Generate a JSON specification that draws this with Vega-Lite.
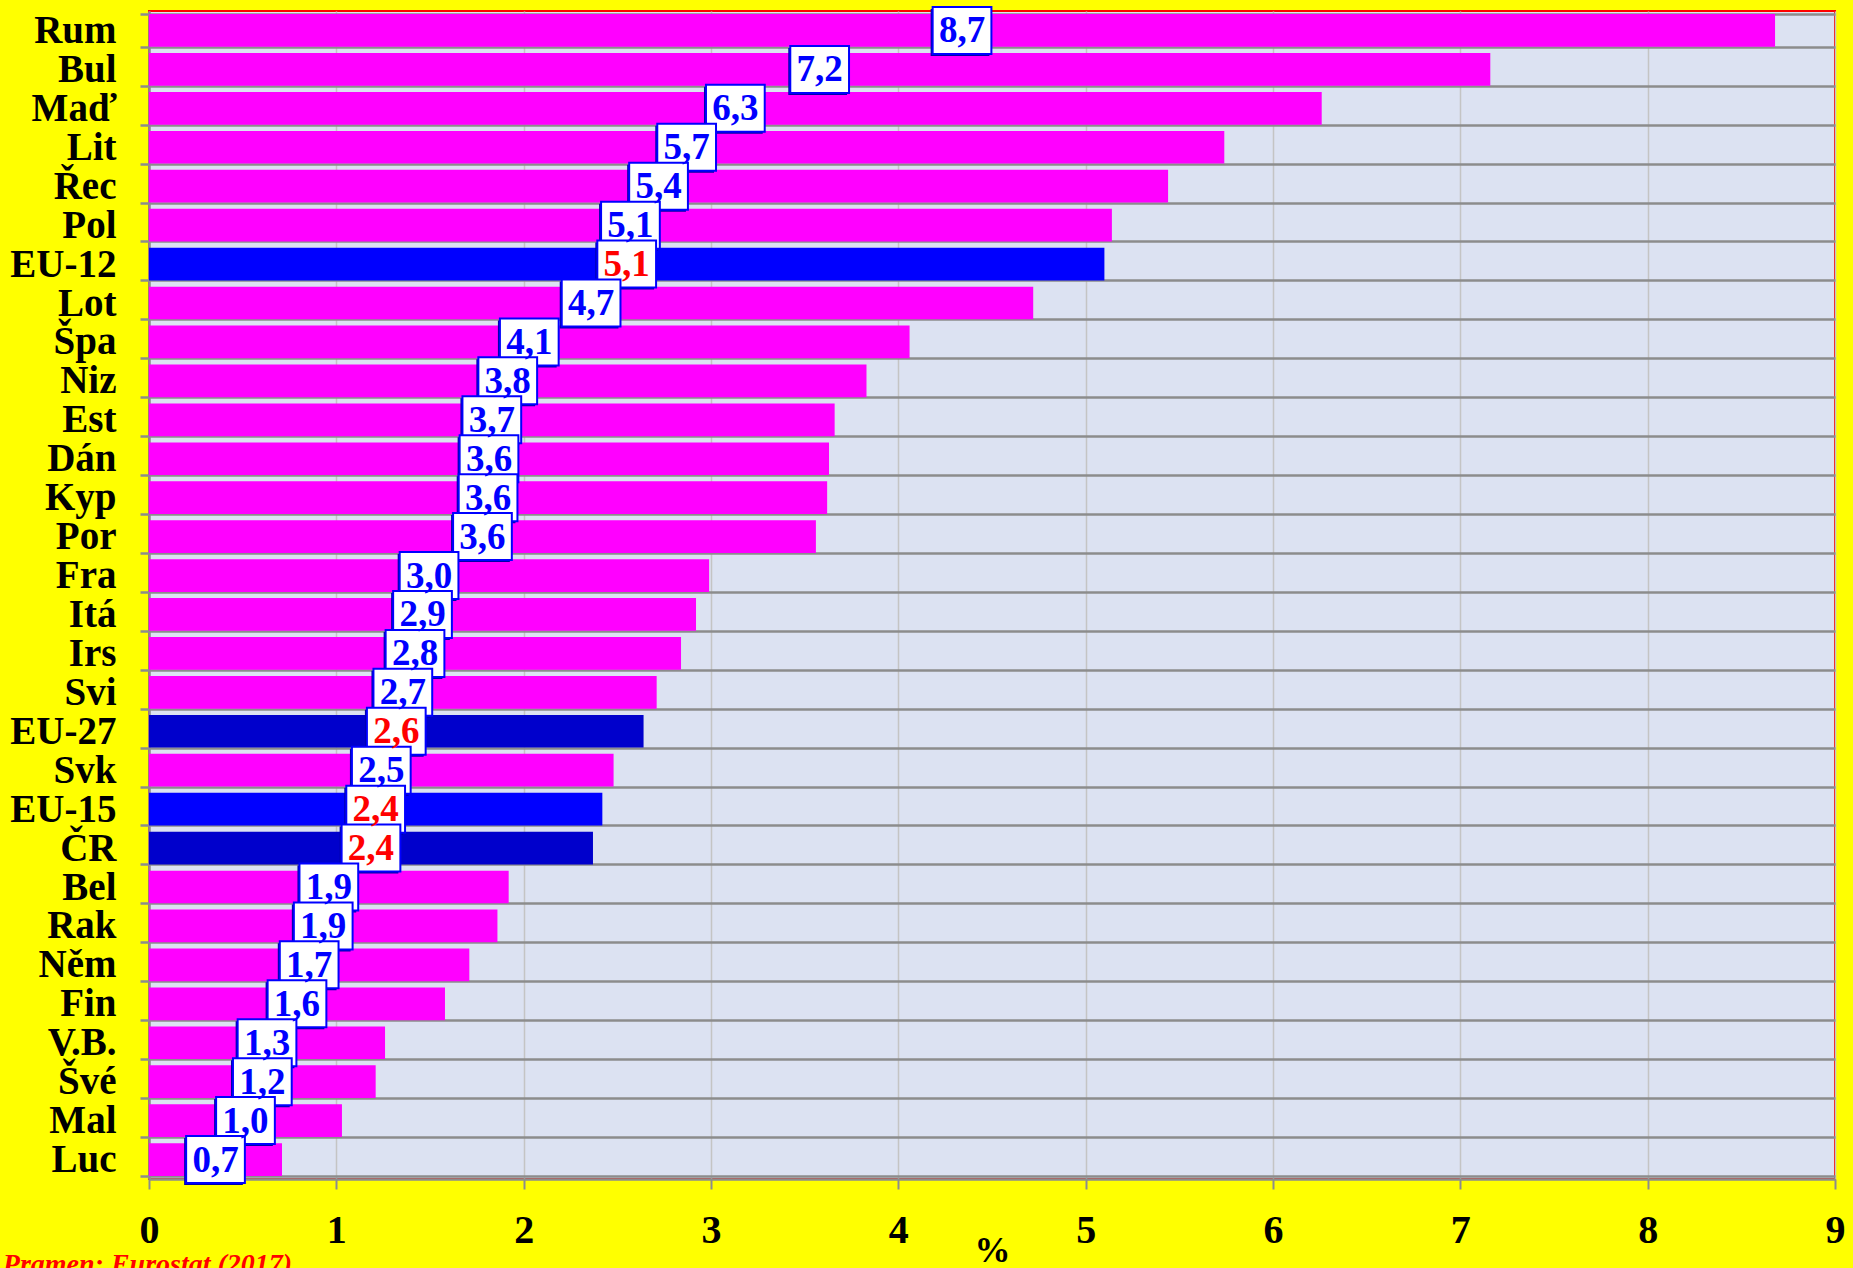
{
  "$schema": "https://vega.github.io/schema/vega-lite/v6.json",
  "width": 1686,
  "height": 1168,
  "autosize": "none",
  "padding": {"left": 149, "top": 11, "right": 18, "bottom": 89},
  "background": "#ffff00",
  "config": {
    "locale": {"number": {"decimal": ",", "thousands": " ", "grouping": [3], "currency": ["", " Kč"]}},
    "view": {"fill": "#dce2f2", "stroke": "#ff0000", "strokeWidth": 2},
    "font": "Liberation Serif"
  },
  "title": {
    "text": "Pramen: Eurostat (2017)",
    "orient": "bottom",
    "anchor": "start",
    "frame": "bounds",
    "font": "Liberation Serif",
    "fontSize": 28,
    "fontStyle": "italic",
    "fontWeight": "bold",
    "color": "#ff0000",
    "offset": -17,
    "dx": -7
  },
  "data": {
    "values": [
      {"stat": "Rum", "hodnota": 8.68, "kat": "stát"},
      {"stat": "Bul", "hodnota": 7.16, "kat": "stát"},
      {"stat": "Maď", "hodnota": 6.26, "kat": "stát"},
      {"stat": "Lit", "hodnota": 5.74, "kat": "stát"},
      {"stat": "Řec", "hodnota": 5.44, "kat": "stát"},
      {"stat": "Pol", "hodnota": 5.14, "kat": "stát"},
      {"stat": "EU-12", "hodnota": 5.10, "kat": "EU-12"},
      {"stat": "Lot", "hodnota": 4.72, "kat": "stát"},
      {"stat": "Špa", "hodnota": 4.06, "kat": "stát"},
      {"stat": "Niz", "hodnota": 3.83, "kat": "stát"},
      {"stat": "Est", "hodnota": 3.66, "kat": "stát"},
      {"stat": "Dán", "hodnota": 3.63, "kat": "stát"},
      {"stat": "Kyp", "hodnota": 3.62, "kat": "stát"},
      {"stat": "Por", "hodnota": 3.56, "kat": "stát"},
      {"stat": "Fra", "hodnota": 2.99, "kat": "stát"},
      {"stat": "Itá", "hodnota": 2.92, "kat": "stát"},
      {"stat": "Irs", "hodnota": 2.84, "kat": "stát"},
      {"stat": "Svi", "hodnota": 2.71, "kat": "stát"},
      {"stat": "EU-27", "hodnota": 2.64, "kat": "EU-27"},
      {"stat": "Svk", "hodnota": 2.48, "kat": "stát"},
      {"stat": "EU-15", "hodnota": 2.42, "kat": "EU-15"},
      {"stat": "ČR", "hodnota": 2.37, "kat": "ČR"},
      {"stat": "Bel", "hodnota": 1.92, "kat": "stát"},
      {"stat": "Rak", "hodnota": 1.86, "kat": "stát"},
      {"stat": "Něm", "hodnota": 1.71, "kat": "stát"},
      {"stat": "Fin", "hodnota": 1.58, "kat": "stát"},
      {"stat": "V.B.", "hodnota": 1.26, "kat": "stát"},
      {"stat": "Švé", "hodnota": 1.21, "kat": "stát"},
      {"stat": "Mal", "hodnota": 1.03, "kat": "stát"},
      {"stat": "Luc", "hodnota": 0.71, "kat": "stát"}
    ]
  },
  "encoding": {
    "y": {
      "field": "stat",
      "type": "nominal",
      "sort": null,
      "scale": {"paddingInner": 0.16, "paddingOuter": 0.08},
      "axis": {
        "title": null,
        "tickBand": "extent",
        "grid": true,
        "gridColor": "#8c8c8c",
        "gridWidth": 2.5,
        "domainColor": "#8c8c8c",
        "domainWidth": 2.5,
        "tickColor": "#8c8c8c",
        "tickWidth": 2.5,
        "tickSize": 9,
        "labelFont": "Liberation Serif",
        "labelFontWeight": "bold",
        "labelFontSize": 39,
        "labelColor": "#000000",
        "labelPadding": 24,
        "labelLimit": 300
      }
    }
  },
  "layer": [
    {
      "mark": {"type": "bar"},
      "encoding": {
        "x": {
          "field": "hodnota",
          "type": "quantitative",
          "scale": {"domain": [0, 9], "nice": false},
          "axis": {
            "title": "%",
            "values": [0, 1, 2, 3, 4, 5, 6, 7, 8, 9],
            "format": "d",
            "grid": true,
            "gridColor": "#c4c4c4",
            "gridWidth": 1.5,
            "domainColor": "#8c8c8c",
            "domainWidth": 2.5,
            "tickColor": "#8c8c8c",
            "tickWidth": 2,
            "tickSize": 10,
            "labelFont": "Liberation Serif",
            "labelFontWeight": "bold",
            "labelFontSize": 40,
            "labelColor": "#000000",
            "labelPadding": 21,
            "labelFlush": false,
            "labelOverlap": false,
            "titleFont": "Liberation Serif",
            "titleFontSize": 36,
            "titleFontWeight": "bold",
            "titleColor": "#000000",
            "titlePadding": -17
          }
        },
        "color": {
          "field": "kat",
          "type": "nominal",
          "scale": {
            "domain": ["stát", "EU-12", "EU-27", "EU-15", "ČR"],
            "range": ["#ff00ff", "#0000ff", "#0000cc", "#0000ff", "#0000cc"]
          },
          "legend": null
        }
      }
    },
    {
      "mark": {
        "type": "point",
        "shape": "M-1.25,-1H1.25V1H-1.25Z",
        "size": 2209,
        "filled": true,
        "fill": "#0000aa",
        "opacity": 1,
        "xOffset": -2,
        "yOffset": 2
      },
      "encoding": {
        "x": {"field": "hodnota", "type": "quantitative", "scale": {"domain": [0, 18], "nice": false}, "axis": null}
      }
    },
    {
      "mark": {
        "type": "point",
        "shape": "M-1.25,-1H1.25V1H-1.25Z",
        "size": 2209,
        "filled": true,
        "fill": "#ffffff",
        "stroke": "#0000ff",
        "strokeWidth": 2,
        "opacity": 1
      },
      "encoding": {
        "x": {"field": "hodnota", "type": "quantitative", "scale": {"domain": [0, 18], "nice": false}, "axis": null}
      }
    },
    {
      "mark": {
        "type": "text",
        "font": "Liberation Serif",
        "fontWeight": "bold",
        "fontSize": 37,
        "align": "center",
        "baseline": "middle",
        "dy": 1
      },
      "encoding": {
        "x": {"field": "hodnota", "type": "quantitative", "scale": {"domain": [0, 18], "nice": false}, "axis": null},
        "text": {"field": "hodnota", "type": "quantitative", "format": ".1f"},
        "color": {
          "condition": {"test": "datum.kat === 'stát'", "value": "#0000ff"},
          "value": "#ff0000"
        }
      }
    }
  ],
  "resolve": {"scale": {"x": "independent", "color": "independent"}}
}
